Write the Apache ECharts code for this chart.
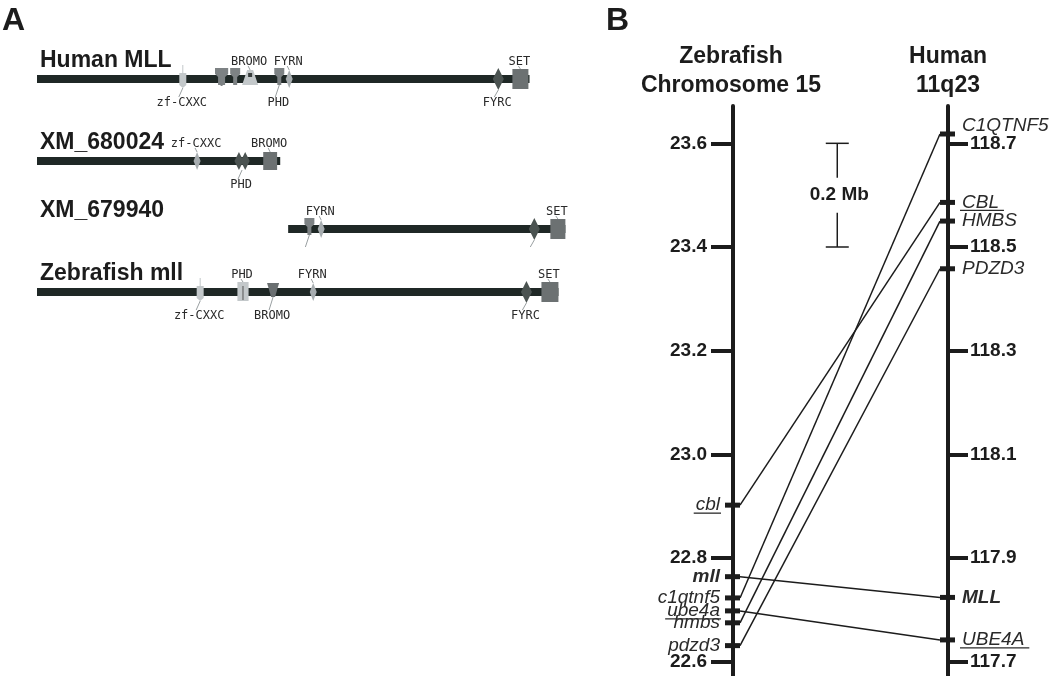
<!DOCTYPE html>
<html><head><meta charset="utf-8">
<script src="https://cdn.jsdelivr.net/npm/echarts@6/dist/echarts.min.js"></script>
<style>html,body{margin:0;padding:0;background:#fff}#c{width:1050px;height:676px}</style>
</head><body><div id="c"></div>
<script>
// ================= Panel A data (amino-acid positions) =================
const proteins = ['Human MLL', 'XM_680024', 'XM_679940', 'Zebrafish mll'];
const proteinSpans = [[0, 3969], [0, 1960], [2024, 4258], [0, 4202]];
// [start aa, end aa, glyph, label, label side]
const humanMllDomains = [
  [1150, 1200, 'cxxc', 'zf-CXXC', 'below'],
  [1435, 1540, 'pin2', '', ''],
  [1572, 1622, 'pin', '', ''],
  [1653, 1782, 'bell', 'BROMO', 'above'],
  [1930, 1975, 'pin', 'PHD', 'below'],
  [2010, 2055, 'diamondLight', 'FYRN', 'above'],
  [3680, 3755, 'diamondDark', 'FYRC', 'below'],
  [3831, 3960, 'rect', 'SET', 'above']
];
const xm680024Domains = [
  [1270, 1310, 'diamondLight', 'zf-CXXC', 'above'],
  [1595, 1710, 'diamond2', 'PHD', 'below'],
  [1823, 1935, 'rectSmall', 'BROMO', 'above']
];
const xm679940Domains = [
  [2175, 2215, 'pin', '', 'below'],
  [2270, 2310, 'diamondLight', 'FYRN', 'above'],
  [3970, 4045, 'diamondDark', '', 'below'],
  [4137, 4258, 'rect', 'SET', 'above']
];
const zebrafishMllDomains = [
  [1295, 1335, 'cxxc', 'zf-CXXC', 'below'],
  [1615, 1705, 'pair', 'PHD', 'above'],
  [1880, 1925, 'tri', 'BROMO', 'below'],
  [2206, 2246, 'diamondLight', 'FYRN', 'above'],
  [3906, 3982, 'diamondDark', 'FYRC', 'below'],
  [4065, 4202, 'rect', 'SET', 'above']
];
const proteinDomains = [humanMllDomains, xm680024Domains, xm679940Domains, zebrafishMllDomains];

// ================= Panel B data (Mb) =================
const zfTickValues = [22.6, 22.8, 23.0, 23.2, 23.4, 23.6];
const hsTickValues = [117.7, 117.9, 118.1, 118.3, 118.5, 118.7];
const zfGenes = ['cbl', 'mll', 'c1qtnf5', 'ube4a', 'hmbs', 'pdzd3'];
const zfGenePos = [22.902, 22.764, 22.723, 22.698, 22.675, 22.631];
const hsGenes = ['C1QTNF5', 'CBL', 'HMBS', 'PDZD3', 'MLL', 'UBE4A'];
const hsGenePos = [118.718, 118.586, 118.550, 118.458, 117.824, 117.742];
const orthologPairs = [['cbl', 'CBL'], ['mll', 'MLL'], ['c1qtnf5', 'C1QTNF5'], ['ube4a', 'UBE4A'], ['hmbs', 'HMBS'], ['pdzd3', 'PDZD3']];
const scaleBarRange = [23.6, 23.4];
const scaleBarLabel = '0.2 Mb';

// ================= styles =================
const underlined = new Set(['cbl', 'ube4a', 'CBL', 'UBE4A']);
const boldGenes = new Set(['mll', 'MLL']);
const labelShiftY = { 'C1QTNF5': -8 };
const INK = '#1c1c1c';
const BAR = '#1f2826';
const LIGHT = '#c3c8ca', MID = '#7d8284', DARK = '#4b5351', SETC = '#6c7172', FYRNC = '#a7adb0';
const FONT = '"Liberation Sans", Arial, sans-serif';
const MONO = '"DejaVu Sans Mono", monospace';
const rowCenters = [79, 161, 229, 292];

const measureCtx = document.createElement('canvas').getContext('2d');
function textWidth(t, font) { measureCtx.font = font; return measureCtx.measureText(t).width; }

const chart = echarts.init(document.getElementById('c'), null, { renderer: 'canvas' });

function diamond(cx, cy, w, h, fill) {
  return { type: 'polygon', shape: { points: [[cx, cy - h / 2], [cx + w / 2, cy], [cx, cy + h / 2], [cx - w / 2, cy]] }, style: { fill: fill } };
}
function pinShape(cx, cy, fill) {
  return { type: 'polygon', shape: { points: [[cx - 5, cy - 11], [cx + 5, cy - 11], [cx + 5, cy - 5], [cx + 2, cy - 2], [cx + 2, cy + 6], [cx - 2, cy + 6], [cx - 2, cy - 2], [cx - 5, cy - 5]] }, style: { fill: fill } };
}

function proteinRenderer(r) {
  const doms = proteinDomains[r];
  return function (params, api) {
    const cs = params.coordSys;
    const i = params.dataIndex;
    if (i === 0) {
      const p0 = api.coord([api.value(0), 0]);
      const p1 = api.coord([api.value(1), 0]);
      return { type: 'group', children: [
        { type: 'rect', shape: { x: p0[0], y: p0[1] - 4, width: p1[0] - p0[0], height: 8 }, style: { fill: BAR } },
        { type: 'text', x: cs.x + 3, y: p0[1] - 18, style: { text: proteins[r], font: 'bold 23px ' + FONT, fill: INK, align: 'left', verticalAlign: 'middle' } }
      ] };
    }
    const d = doms[i - 1];
    const a = api.coord([api.value(0), 0]);
    const b = api.coord([api.value(1), 0]);
    const x1 = a[0], x2 = b[0], cy = a[1], cx = (x1 + x2) / 2;
    const ch = [];
    let halfH = 10;
    switch (d[2]) {
      case 'cxxc':
        ch.push({ type: 'line', shape: { x1: cx, y1: cy - 14, x2: cx, y2: cy }, style: { stroke: LIGHT, lineWidth: 1 } });
        ch.push({ type: 'polygon', shape: { points: [[cx - 3.5, cy - 6], [cx + 3.5, cy - 6], [cx + 3.5, cy + 6], [cx, cy + 9], [cx - 3.5, cy + 6]] }, style: { fill: LIGHT } });
        halfH = 9; break;
      case 'pin':
        ch.push(pinShape(cx, cy, MID)); halfH = 6; break;
      case 'pin2':
        ch.push({ type: 'rect', shape: { x: x1, y: cy - 11, width: x2 - x1, height: 6 }, style: { fill: MID } });
        ch.push(pinShape(x1 + 5, cy, MID)); ch.push(pinShape(x2 - 5, cy, MID));
        ch.push({ type: 'rect', shape: { x: cx - 1, y: cy - 5, width: 2, height: 12 }, style: { fill: MID } });
        halfH = 6; break;
      case 'bell':
        ch.push({ type: 'polygon', shape: { points: [[x1 + 5, cy - 9], [x2 - 5, cy - 9], [x2, cy + 6], [x1, cy + 6]] }, style: { fill: LIGHT } });
        ch.push({ type: 'rect', shape: { x: cx - 2, y: cy - 6, width: 4, height: 4 }, style: { fill: '#3a3f3e' } });
        halfH = 9; break;
      case 'diamondLight':
        ch.push(diamond(cx, cy, 7, 18, FYRNC)); halfH = 9; break;
      case 'diamondDark':
        ch.push(diamond(cx, cy, 11, 22, DARK)); halfH = 11; break;
      case 'diamond2':
        ch.push(diamond(x1 + (x2 - x1) * 0.28, cy, 9, 18, DARK));
        ch.push(diamond(x1 + (x2 - x1) * 0.72, cy, 9, 18, DARK)); halfH = 9; break;
      case 'rect':
        ch.push({ type: 'rect', shape: { x: x1, y: cy - 10, width: x2 - x1, height: 20 }, style: { fill: SETC } }); halfH = 10; break;
      case 'rectSmall':
        ch.push({ type: 'rect', shape: { x: x1, y: cy - 9, width: x2 - x1, height: 18 }, style: { fill: SETC } }); halfH = 9; break;
      case 'pair':
        ch.push({ type: 'rect', shape: { x: x1, y: cy - 10, width: x2 - x1, height: 19 }, style: { fill: LIGHT } });
        ch.push({ type: 'line', shape: { x1: cx, y1: cy - 6, x2: cx, y2: cy + 8 }, style: { stroke: '#555', lineWidth: 1 } });
        halfH = 10; break;
      case 'tri':
        ch.push({ type: 'polygon', shape: { points: [[cx - 6, cy - 9], [cx + 6, cy - 9], [cx + 2, cy + 5], [cx - 2, cy + 5]] }, style: { fill: '#6a6f71' } });
        halfH = 5; break;
    }
    if (d[4] === 'above') {
      ch.push({ type: 'line', shape: { x1: cx, y1: cy - halfH, x2: cx - 2, y2: cy - 13 }, style: { stroke: '#9aa0a2', lineWidth: 1 } });
      if (d[3]) ch.push({ type: 'text', x: cx - 1, y: cy - 17, style: { text: d[3], font: '12px ' + MONO, fill: '#2a2a2a', align: 'center', verticalAlign: 'middle' } });
    } else if (d[4] === 'below') {
      ch.push({ type: 'line', shape: { x1: cx, y1: cy + halfH, x2: cx - 4, y2: cy + 18 }, style: { stroke: '#9aa0a2', lineWidth: 1 } });
      if (d[3]) ch.push({ type: 'text', x: cx - 1, y: cy + 24, style: { text: d[3], font: '12px ' + MONO, fill: '#2a2a2a', align: 'center', verticalAlign: 'middle' } });
    }
    return { type: 'group', children: ch };
  };
}

const grids = [], xAxes = [], yAxes = [], series = [];
proteins.forEach(function (name, r) {
  grids.push({ left: 37, width: 546, top: rowCenters[r] - 10, height: 20 });
  xAxes.push({ gridIndex: r, type: 'value', min: 0, max: 4400, show: false });
  yAxes.push({ gridIndex: r, type: 'category', data: [name], show: false });
  const data = [[proteinSpans[r][0], proteinSpans[r][1], 0]].concat(proteinDomains[r].map(function (d) { return [d[0], d[1], 0]; }));
  series.push({ type: 'custom', xAxisIndex: r, yAxisIndex: r, encode: { x: [0, 1], y: 2 }, data: data, renderItem: proteinRenderer(r), silent: true, clip: false });
});

// ---- Panel B grid ----
const G = 4;
grids.push({ left: 733, right: 102, top: 106, bottom: 0 });
xAxes.push({ gridIndex: G, type: 'value', min: 0, max: 1, show: false });
const tickLabelStyle = { fontFamily: FONT, fontWeight: 'bold', fontSize: 19, color: INK };
yAxes.push({
  gridIndex: G, type: 'value', position: 'left', min: 22.5724, max: 23.672,
  axisLine: { show: true, lineStyle: { color: INK, width: 4 } },
  axisTick: { show: true, length: 22, customValues: zfTickValues, lineStyle: { color: INK, width: 4 } },
  axisLabel: Object.assign({ customValues: zfTickValues, margin: 26, formatter: function (v) { return v.toFixed(1); } }, tickLabelStyle),
  splitLine: { show: false }
});
yAxes.push({
  gridIndex: G, type: 'value', position: 'right', min: 117.6724, max: 118.772,
  axisLine: { show: true, lineStyle: { color: INK, width: 4 } },
  axisTick: { show: true, length: 20, customValues: hsTickValues, lineStyle: { color: INK, width: 4 } },
  axisLabel: Object.assign({ customValues: hsTickValues, margin: 22, formatter: function (v) { return v.toFixed(1); } }, tickLabelStyle),
  splitLine: { show: false }
});
const YL = 4, YR = 5;

function geneFont(n) { return (boldGenes.has(n) ? 'italic bold ' : 'italic ') + '19px ' + FONT; }

function geneRenderer(names, side) {
  return function (params, api) {
    const p = api.coord([api.value(0), api.value(1)]);
    const n = names[params.dataIndex];
    const font = geneFont(n);
    const w = textWidth(n, font);
    const ly = p[1] + (labelShiftY[n] || 0);
    const ch = [{ type: 'rect', shape: { x: p[0] - 8, y: p[1] - 2.5, width: 15, height: 5 }, style: { fill: INK } }];
    let tx, ux1, ux2;
    if (side === 'left') { tx = p[0] - 13; ux1 = tx - w - 2; ux2 = tx + 1; }
    else { tx = p[0] + 14; ux1 = tx - 2; ux2 = tx + w + 5; }
    ch.push({ type: 'text', x: tx, y: ly, style: { text: n, font: font, fill: '#2a2a2a', align: side === 'left' ? 'right' : 'left', verticalAlign: 'middle' } });
    if (underlined.has(n)) ch.push({ type: 'line', shape: { x1: ux1, y1: ly + 8, x2: ux2, y2: ly + 8 }, style: { stroke: '#2a2a2a', lineWidth: 1.3 } });
    return { type: 'group', children: ch };
  };
}

series.push({ type: 'custom', xAxisIndex: G, yAxisIndex: YL, encode: { x: 0, y: 1 }, data: zfGenePos.map(function (v) { return [0, v]; }), renderItem: geneRenderer(zfGenes, 'left'), clip: false, silent: true, z: 5 });
series.push({ type: 'custom', xAxisIndex: G, yAxisIndex: YR, encode: { x: 0, y: 1 }, data: hsGenePos.map(function (v) { return [1, v]; }), renderItem: geneRenderer(hsGenes, 'right'), clip: false, silent: true, z: 5 });

const linkData = orthologPairs.map(function (pr) { return [0, zfGenePos[zfGenes.indexOf(pr[0])], hsGenePos[hsGenes.indexOf(pr[1])]]; });
series.push({
  type: 'custom', xAxisIndex: G, yAxisIndex: YL, encode: { x: 0, y: 1 }, data: linkData, clip: false, silent: true, z: 4,
  renderItem: function (params, api) {
    const p0 = api.coord([0, api.value(1)]);
    const py = chart.convertToPixel({ yAxisIndex: YR }, api.value(2));
    const x1 = params.coordSys.x + params.coordSys.width;
    return { type: 'line', shape: { x1: p0[0] + 7, y1: p0[1], x2: x1 - 8, y2: py }, style: { stroke: INK, lineWidth: 1.5 } };
  }
});

series.push({
  type: 'custom', xAxisIndex: G, yAxisIndex: YL, encode: { x: 0, y: [1, 2] }, data: [[0.485, scaleBarRange[0], scaleBarRange[1]]], clip: false, silent: true,
  renderItem: function (params, api) {
    const t = api.coord([api.value(0), api.value(1)]);
    const b = api.coord([api.value(0), api.value(2)]);
    const st = { stroke: INK, lineWidth: 1.5 };
    return { type: 'group', children: [
      { type: 'line', shape: { x1: t[0], y1: t[1], x2: b[0], y2: b[1] }, style: st },
      { type: 'line', shape: { x1: t[0] - 11.5, y1: t[1], x2: t[0] + 11.5, y2: t[1] }, style: st },
      { type: 'line', shape: { x1: b[0] - 11.5, y1: b[1], x2: b[0] + 11.5, y2: b[1] }, style: st },
      { type: 'text', x: t[0] + 2, y: (t[1] + b[1]) / 2, style: { text: scaleBarLabel, font: 'bold 19px ' + FONT, fill: INK, align: 'center', verticalAlign: 'middle', backgroundColor: '#fff', padding: [8, 3] } }
    ] };
  }
});

chart.setOption({
  animation: false,
  backgroundColor: '#fff',
  grid: grids, xAxis: xAxes, yAxis: yAxes, series: series,
  graphic: [
    { type: 'text', left: 2, top: 5, style: { text: 'A', font: 'bold 32px ' + FONT, fill: INK } },
    { type: 'text', left: 606, top: 5, style: { text: 'B', font: 'bold 32px ' + FONT, fill: INK } },
    { type: 'text', x: 731, y: 71, style: { text: 'Zebrafish\nChromosome 15', font: 'bold 23px ' + FONT, lineHeight: 29, fill: INK, align: 'center', verticalAlign: 'middle' } },
    { type: 'text', x: 948, y: 71, style: { text: 'Human\n11q23', font: 'bold 23px ' + FONT, lineHeight: 29, fill: INK, align: 'center', verticalAlign: 'middle' } }
  ]
});
</script></body></html>
